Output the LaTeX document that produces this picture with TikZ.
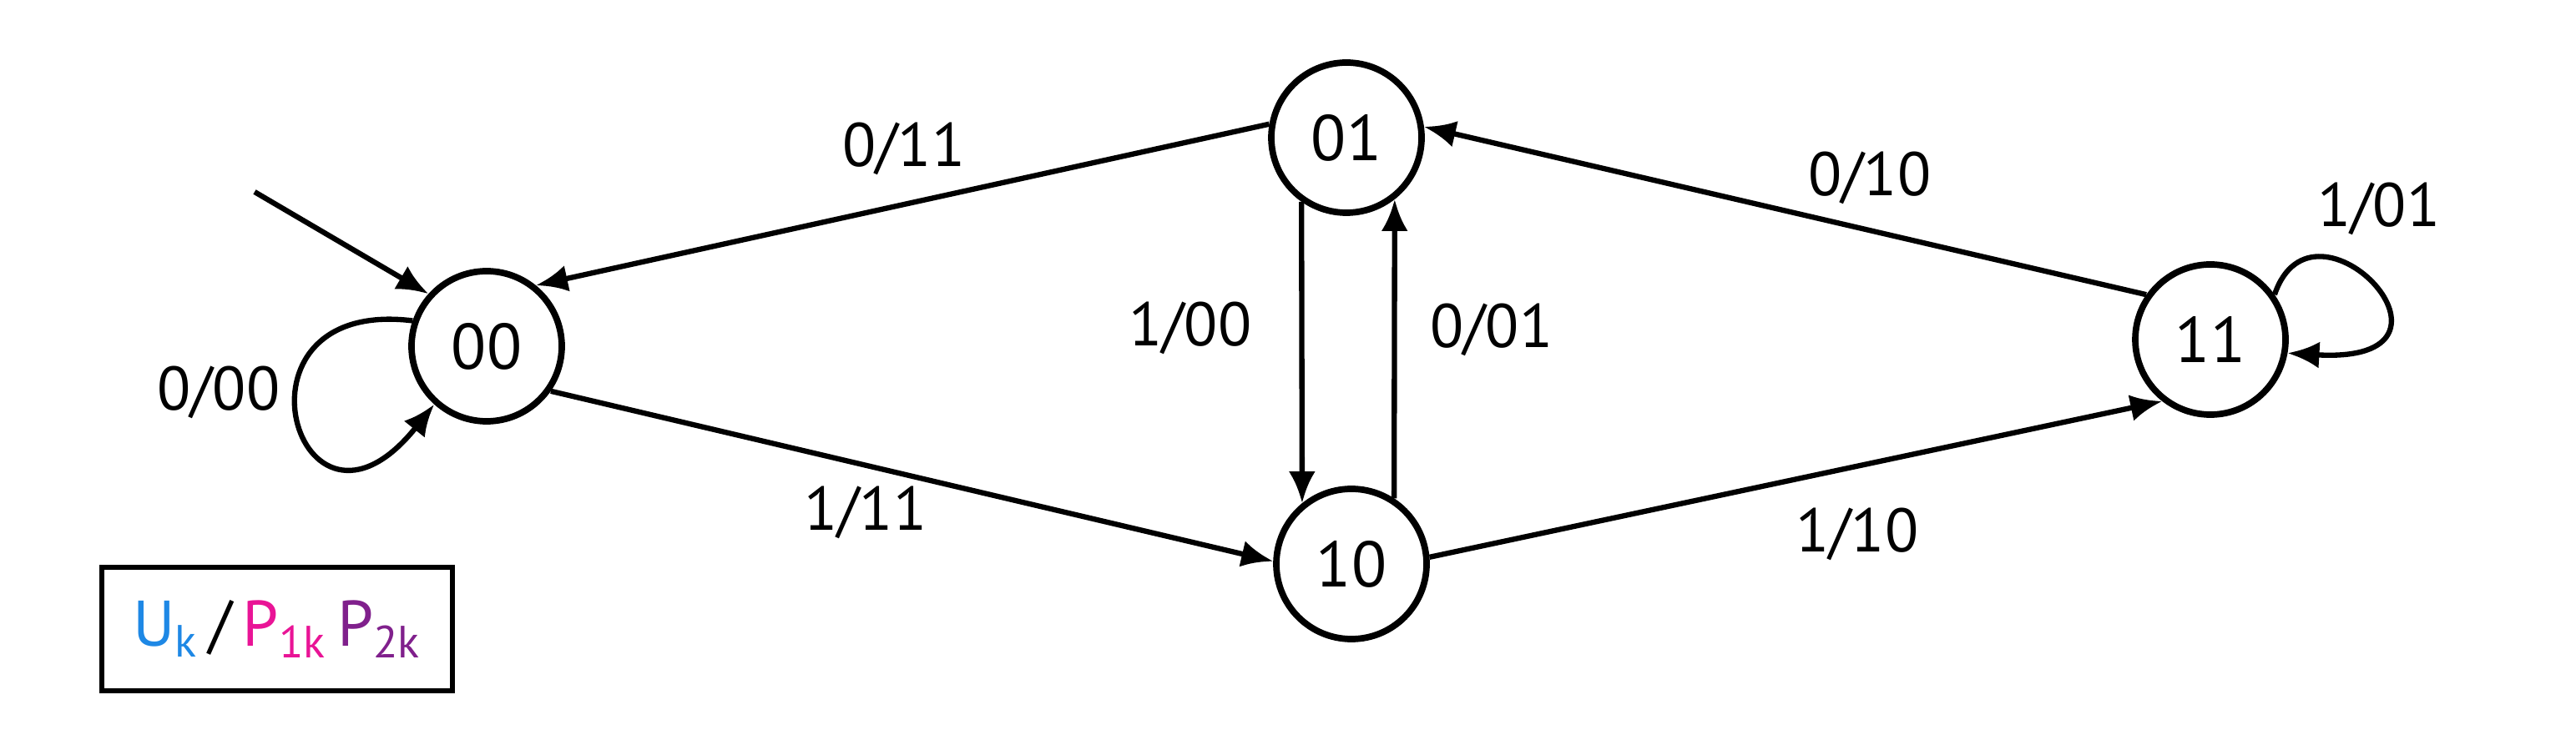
\documentclass[tikz,border=0pt]{standalone}
\usepackage{xcolor}
\usepackage{fontspec}
\setmainfont{PT Sans}
\usetikzlibrary{arrows.meta}

\definecolor{ublue}{RGB}{30,136,229}
\definecolor{pmag}{RGB}{233,20,150}
\definecolor{ppur}{RGB}{128,32,140}

\tikzset{
  state/.style={circle,draw,line width=2.2pt,minimum size=1.8cm,inner sep=0pt,
    font=\fontsize{22}{26}\selectfont},
  trans/.style={line width=1.8pt,-{Latex[length=3.8mm,width=3.2mm]}},
  lbl/.style={font=\fontsize{21}{25}\selectfont,inner sep=1pt}
}

\begin{document}
\begin{tikzpicture}
\useasboundingbox (0,0) rectangle (30.86,8.86);

% states
\node[state] (s00) at (5.83,4.71) {00};
\node[state] (s01) at (16.13,7.21) {01};
\node[state] (s10) at (16.19,2.10) {10};
\node[state] (s11) at (26.48,4.79) {11};

% start arrow
\coordinate (start) at (3.05,6.56);
\draw[trans] (start) -- (s00.138);

% transitions
\draw[trans] (s01.170) -- (s00.51);
\draw[trans] (s00.-35) -- (s10.178);
\draw[trans] (s01.235) -- (s10.129);
\draw[trans] (s10.57) -- (s01.-52);
\draw[trans] (s11.145) -- (s01.8);
\draw[trans] (s10.5) -- (s11.232);
\draw[trans] (s00.161) .. controls +(-2.35,0.29) and +(-1.63,-2.04) .. (s00.228);
\draw[trans] (s11.35) .. controls +(0.47,1.39) and +(2.42,-0.14) .. (s11.-10);

% labels
\node[lbl] (l0011) at (10.83,7.08) {0/11};
\node[lbl] (l0110) at (22.40,6.73) {0/10};
\node[lbl] (l0111) at (10.37,2.72) {1/11};
\node[lbl] (l1011) at (22.25,2.46) {1/10};
\node[lbl] (l0110d) at (14.26,4.93) {1/00};
\node[lbl] (l1001) at (17.87,4.91) {0/01};
\node[lbl] (l0000) at (2.62,4.16) {0/00};
\node[lbl] (l1111) at (28.50,6.36) {1/01};

% key
\node[draw,line width=1.8pt,minimum width=4.2cm,minimum height=1.48cm,
  font=\fontsize{22}{26}\selectfont] (key) at (3.32,1.32)
  {{\color{ublue}U\textsubscript{k}}\,/\,{\color{pmag}P\textsubscript{1k}}\,{\color{ppur}P\textsubscript{2k}}};
\end{tikzpicture}
\end{document}
